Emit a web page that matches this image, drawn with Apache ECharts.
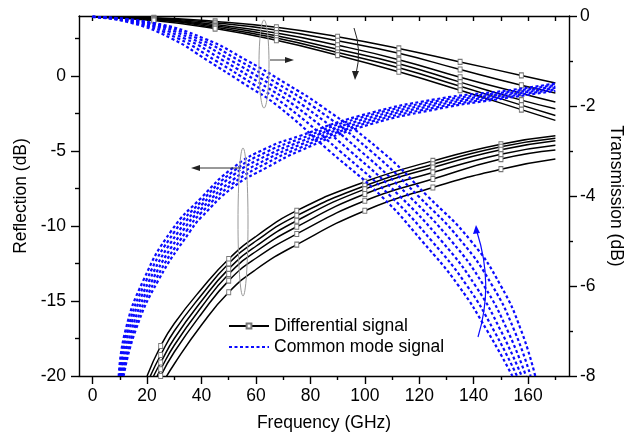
<!DOCTYPE html>
<html><head><meta charset="utf-8">
<script src="https://cdn.jsdelivr.net/npm/echarts@6/dist/echarts.min.js"></script>
<style>html,body{margin:0;padding:0;background:#fff}#c{width:633px;height:437px}</style>
</head><body><div id="c"></div>
<script>
// ---- axis ticks / labels ----
const xMajor = [0, 20, 40, 60, 80, 100, 120, 140, 160];
const xMinor = [10, 30, 50, 70, 90, 110, 130, 150, 170];
const xTop = [0, 10, 20, 30, 40, 50, 60, 70, 80, 90, 100, 110, 120, 130, 140, 150, 160, 170];
const reflMajor = [-20, -15, -10, -5, 0];
const reflMinor = [-17.5, -12.5, -7.5, -2.5, 2.5];

// ---- Differential signal: transmission (right axis, dB) ----
const diffTransFreq = [0, 22.5, 45, 67.5, 90, 112.5, 135, 157.5, 170];
const diffTrans1 = [-0.02, -0.04, -0.12, -0.25, -0.46, -0.72, -1.02, -1.32, -1.49];
const diffTrans2 = [-0.02, -0.05, -0.15, -0.31, -0.55, -0.83, -1.19, -1.54, -1.71];
const diffTrans3 = [-0.02, -0.06, -0.19, -0.38, -0.65, -0.97, -1.36, -1.72, -1.91];
const diffTrans4 = [-0.02, -0.07, -0.22, -0.44, -0.74, -1.06, -1.47, -1.87, -2.06];
const diffTrans5 = [-0.02, -0.08, -0.25, -0.49, -0.81, -1.15, -1.56, -1.98, -2.21];
const diffTrans6 = [-0.02, -0.10, -0.28, -0.54, -0.87, -1.24, -1.65, -2.08, -2.32];
const diffTransMarkers = [22.5, 45, 67.5, 90, 112.5, 135, 157.5];

// ---- Differential signal: reflection (left axis, dB) [freq, dB] ----
const diffRefl1 = [[20,-20],[25,-18.0],[30,-16.5],[40,-14.2],[50,-12.2],[60,-10.7],[75,-8.98],[100,-7.05],[125,-5.66],[150,-4.55],[170,-3.99]];
const diffRefl2 = [[21.2,-20],[25,-18.6],[30,-17.0],[40,-14.6],[50,-12.5],[60,-11.0],[75,-9.31],[100,-7.32],[125,-5.88],[150,-4.72],[170,-4.15]];
const diffRefl3 = [[22.4,-20],[25,-19.1],[30,-17.5],[40,-15.0],[50,-12.86],[60,-11.35],[75,-9.65],[100,-7.54],[125,-6.1],[150,-4.92],[170,-4.32]];
const diffRefl4 = [[23.7,-20],[25,-19.55],[30,-17.95],[40,-15.4],[50,-13.2],[60,-11.7],[75,-10.05],[100,-7.87],[125,-6.43],[150,-5.21],[170,-4.61]];
const diffRefl5 = [[25,-20.0],[30,-18.4],[40,-15.85],[50,-13.64],[60,-12.15],[75,-10.53],[100,-8.32],[125,-6.87],[150,-5.54],[170,-4.94]];
const diffRefl6 = [[25,-20.7],[30,-19.2],[40,-16.6],[50,-14.42],[60,-12.9],[75,-11.24],[100,-8.98],[125,-7.43],[150,-6.21],[170,-5.54]];
const diffReflMarkers = [25, 50, 75, 100, 125, 150];

// ---- Common mode signal: transmission (right axis) — freq at each dB level ----
const cmTransLevels = [-0.02, -0.15, -0.5, -1, -1.5, -2, -3, -4, -5, -6, -7, -8];
const cmTransFreq1 = [0, 22, 41, 57, 71, 84, 106, 123, 139, 150, 157.5, 162.6];
const cmTransFreq2 = [0, 20.5, 38.6, 54.1, 67.9, 80.8, 102.2, 119.6, 135.4, 146.9, 155, 160.9];
const cmTransFreq3 = [0, 19, 36.2, 51.2, 64.8, 77.6, 98.4, 116.2, 131.8, 143.8, 152.5, 159.2];
const cmTransFreq4 = [0, 17, 33.8, 48.3, 61.7, 74.4, 94.6, 112.8, 128.2, 140.7, 150, 157.6];
const cmTransFreq5 = [0, 15.5, 31.4, 45.4, 58.6, 71.2, 90.8, 109.4, 124.6, 137.6, 147.5, 155.9];
const cmTransFreq6 = [0, 14, 29, 42.5, 55.5, 68, 87, 106, 121, 134.5, 145, 154.2];

// ---- Common mode signal: reflection (left axis) [freq, dB] ----
const cmRefl1 = [[9.6,-20],[12,-17],[18.7,-13.6],[29,-10.3],[40,-8.1],[51.7,-6.1],[64,-4.8],[76,-4.0],[98,-2.66],[126,-1.55],[153,-0.95],[170,-0.5]];
const cmRefl2 = [[10,-20],[12.7,-17],[19.8,-13.6],[30.4,-10.3],[40,-8.35],[51.7,-6.35],[64,-5.05],[76,-4.2],[98,-2.8],[126,-1.68],[153,-1.05],[170,-0.6]];
const cmRefl3 = [[10.3,-20],[13.4,-17],[20.9,-13.6],[31.8,-10.3],[40,-8.6],[51.7,-6.6],[64,-5.3],[76,-4.4],[98,-2.97],[126,-1.82],[153,-1.15],[170,-0.7]];
const cmRefl4 = [[10.7,-20],[14.2,-17],[22,-13.6],[33.2,-10.3],[40,-8.85],[51.7,-6.9],[64,-5.55],[76,-4.6],[98,-3.13],[126,-1.95],[153,-1.25],[170,-0.8]];
const cmRefl5 = [[11,-20],[15,-17],[23.1,-13.6],[34.6,-10.3],[40,-9.1],[51.7,-7.15],[64,-5.8],[76,-4.8],[98,-3.28],[126,-2.1],[153,-1.35],[170,-0.9]];
const cmRefl6 = [[11.4,-20],[15.7,-17],[24.2,-13.6],[36,-10.3],[40,-9.4],[51.7,-7.4],[64,-6.1],[76,-5.0],[98,-3.44],[126,-2.22],[153,-1.44],[170,-1.0]];

const DIFF = 'Differential signal';
const CM = 'Common mode signal';
const FONT = "'Liberation Sans', Arial, sans-serif";
const FS = 17.5;
const BLUE = '#0a0aff';

function markPts(pts, markers) {
  return pts.map(p => markers.indexOf(p[0]) >= 0 ? {value: p} : {value: p, symbol: 'none'});
}
function diffSeries(pts, yIdx, markers) {
  return {
    name: DIFF, type: 'line', xAxisIndex: 0, yAxisIndex: yIdx,
    data: markPts(pts, markers), smooth: 0.5,
    symbol: 'rect', symbolSize: [4, 5],
    lineStyle: {color: '#000', width: 1.5},
    itemStyle: {color: '#fff', borderColor: '#777', borderWidth: 1},
    z: 3, silent: true
  };
}
function cmSeries(pts, yIdx) {
  return {
    name: CM, type: 'line', xAxisIndex: 0, yAxisIndex: yIdx,
    data: pts, smooth: 0.5, symbol: 'none',
    lineStyle: {color: BLUE, width: 2.2, type: [3, 2.5]},
    itemStyle: {color: BLUE},
    z: 4, silent: true
  };
}

const series = [];
[diffTrans1, diffTrans2, diffTrans3, diffTrans4, diffTrans5, diffTrans6].forEach(arr => {
  series.push(diffSeries(diffTransFreq.map((f, i) => [f, arr[i]]), 2, diffTransMarkers));
});
[diffRefl1, diffRefl2, diffRefl3, diffRefl4, diffRefl5, diffRefl6].forEach(arr => {
  series.push(diffSeries(arr, 0, diffReflMarkers));
});
[cmTransFreq1, cmTransFreq2, cmTransFreq3, cmTransFreq4, cmTransFreq5, cmTransFreq6].forEach(arr => {
  series.push(cmSeries(arr.map((f, i) => [f, cmTransLevels[i]]), 2));
});
[cmRefl1, cmRefl2, cmRefl3, cmRefl4, cmRefl5, cmRefl6].forEach(arr => {
  series.push(cmSeries(arr, 0));
});

const axLine = {color: '#000', width: 1.4};
const lbl = {color: '#000', fontSize: FS, fontFamily: FONT};

const option = {
  animation: false,
  backgroundColor: '#fff',
  grid: {left: 79, right: 64, top: 16, bottom: 61, containLabel: false, outerBoundsMode: 'none'},
  legend: {
    data: [{name: DIFF}, {name: CM, itemStyle: {opacity: 0}}],
    orient: 'vertical', left: 223, top: 312,
    itemWidth: 40, itemHeight: 6, itemGap: 3,
    textStyle: {color: '#000', fontSize: FS, fontFamily: FONT},
    selectedMode: false
  },
  xAxis: [
    {type: 'value', min: -5, max: 175, position: 'bottom',
     axisLine: {show: true, onZero: false, lineStyle: axLine},
     axisTick: {show: true, customValues: xMajor, length: 8, lineStyle: axLine},
     axisLabel: Object.assign({customValues: xMajor, margin: 11}, lbl),
     splitLine: {show: false},
     name: 'Frequency (GHz)', nameLocation: 'middle', nameGap: 38,
     nameTextStyle: {color: '#000', fontSize: FS, fontFamily: FONT}},
    {type: 'value', min: -5, max: 175, position: 'bottom',
     axisLine: {show: false, onZero: false},
     axisTick: {show: true, customValues: xMinor, length: 4, lineStyle: axLine},
     axisLabel: {show: false}, splitLine: {show: false}},
    {type: 'value', min: -5, max: 175, position: 'top',
     axisLine: {show: true, onZero: false, lineStyle: axLine},
     axisTick: {show: true, inside: true, customValues: xTop, length: 5, lineStyle: axLine},
     axisLabel: {show: false}, splitLine: {show: false}}
  ],
  yAxis: [
    {type: 'value', min: -20, max: 4, position: 'left',
     axisLine: {show: true, onZero: false, lineStyle: axLine},
     axisTick: {show: true, customValues: reflMajor, length: 8, lineStyle: axLine},
     axisLabel: Object.assign({customValues: reflMajor, margin: 13}, lbl),
     splitLine: {show: false},
     name: 'Reflection (dB)', nameLocation: 'middle', nameGap: 39,
     nameTextStyle: {color: '#000', fontSize: FS, fontFamily: FONT}},
    {type: 'value', min: -20, max: 4, position: 'left',
     axisLine: {show: false, onZero: false},
     axisTick: {show: true, customValues: reflMinor, length: 4, lineStyle: axLine},
     axisLabel: {show: false}, splitLine: {show: false}},
    {type: 'value', min: -8, max: 0, interval: 2, position: 'right',
     axisLine: {show: true, onZero: false, lineStyle: axLine},
     axisTick: {show: true, length: 8, lineStyle: axLine},
     minorTick: {show: true, splitNumber: 2, length: 4, lineStyle: axLine},
     axisLabel: Object.assign({margin: 11}, lbl),
     splitLine: {show: false},
     name: 'Transmission (dB)', nameLocation: 'middle', nameGap: 38, nameRotate: -90,
     nameTextStyle: {color: '#000', fontSize: FS, fontFamily: FONT}}
  ],
  series: series,
  graphic: [
    {type: 'ellipse', shape: {cx: 264, cy: 64, rx: 5, ry: 44}, style: {fill: 'none', stroke: '#999', lineWidth: 1}, z: 10},
    {type: 'line', shape: {x1: 270, y1: 60, x2: 288, y2: 60}, style: {stroke: '#333', lineWidth: 1}, z: 10},
    {type: 'polygon', shape: {points: [[294, 60], [285, 57], [285, 63]]}, style: {fill: '#222'}, z: 10},
    {type: 'ellipse', shape: {cx: 243, cy: 222, rx: 5, ry: 74}, style: {fill: 'none', stroke: '#999', lineWidth: 1}, z: 10},
    {type: 'line', shape: {x1: 241, y1: 168, x2: 198, y2: 168}, style: {stroke: '#333', lineWidth: 1}, z: 10},
    {type: 'polygon', shape: {points: [[191, 168], [200, 165], [200, 171]]}, style: {fill: '#222'}, z: 10},
    {type: 'bezierCurve', shape: {x1: 354, y1: 28, x2: 356, y2: 74, cpx1: 362, cpy1: 50}, style: {fill: 'none', stroke: '#222', lineWidth: 1}, z: 10},
    {type: 'polygon', shape: {points: [[355, 80], [352, 71], [359, 71]]}, style: {fill: '#222'}, z: 10},
    {type: 'bezierCurve', shape: {x1: 478, y1: 337, x2: 477, y2: 232, cpx1: 494, cpy1: 285}, style: {fill: 'none', stroke: BLUE, lineWidth: 1.2}, z: 10},
    {type: 'polygon', shape: {points: [[476, 225], [473, 234], [480, 233]]}, style: {fill: BLUE}, z: 10}
  ]
};

const chart = echarts.init(document.getElementById('c'), null, {renderer: 'canvas'});
chart.setOption(option);
</script>
</body></html>
